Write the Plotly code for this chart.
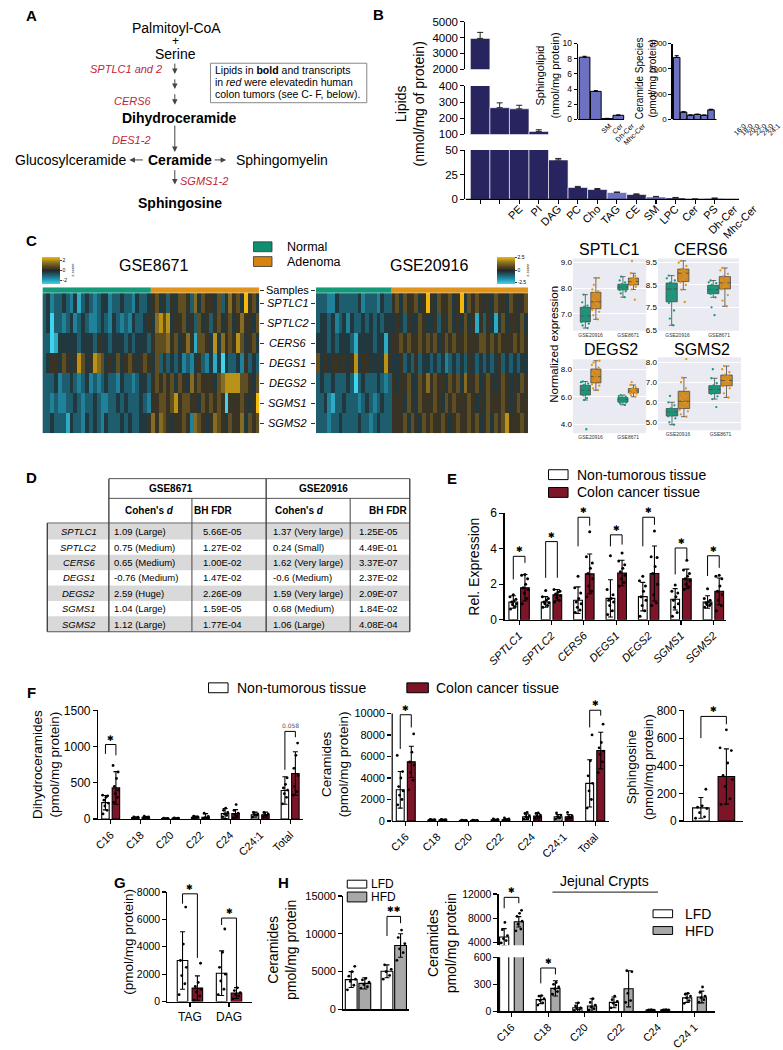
import plotly.graph_objects as go

W, H = 783, 1050
FONT = "Liberation Sans, Arial, Helvetica, sans-serif"
NAVY = "#27245f"
LIGHT = "#6c71c1"
CANCER = "#7d1428"
HFD_GRAY = "#a8a8a8"
GENE_RED = "#c11f35"
GREEN = "#14997a"
ORANGE = "#df941b"
BOX_GREEN = "#25917a"
BOX_ORANGE = "#cc8a2a"

# ================= DATA =================
# ---- Panel B ----
b_labels = ["PE", "PI", "DAG", "PC", "Cho", "TAG", "CE", "SM", "LPC", "Cer", "PS", "Dh-Cer", "Mhc-Cer"]
b_values = [3950, 265, 258, 118, 40, 12, 10, 7, 5, 2.5, 1.5, 0.3, 1.0]
b_errors = [380, 30, 22, 10, 1.5, 1.2, 1.0, 0.5, 0.6, 0.5, 0.5, 0.1, 0.4]
b_is_sphingolipid = [False, False, False, False, False, False, False, True, False, True, False, True, True]
sphingo_labels = ["SM", "Cer", "Dh-Cer", "Mhc-Cer"]
sphingo_values = [8.2, 3.7, 0.12, 0.55]
sphingo_errors = [0.12, 0.1, 0.03, 0.05]
cer_species_labels = ["16:0", "18:0", "20:0", "22:0", "24:0", "24:1"]
cer_species_values = [2450, 290, 170, 200, 165, 380]
cer_species_errors = [70, 15, 10, 10, 10, 25]

# ---- Panel C heatmaps (z-score level codes 0..9) ----
heat_genes = ["SPTLC1", "SPTLC2", "CERS6", "DEGS1", "DEGS2", "SGMS1", "SGMS2"]
heat_levels = [-2.7, -2.1, -1.5, -0.9, -0.3, 0.3, 0.9, 1.5, 2.1, 2.7]
gse8671_normal_n = 28
gse8671_rows = [
    "3423343" "2413432" "3442334" "3324334" "5645354" "6653746" "5546357" "5649564",
    "3403323" "4234322" "3432432" "3243345" "4786845" "5645364" "5356456" "4575546",
    "3301444" "4434443" "5443444" "3434443" "5666756" "4575166" "5484756" "5864564",
    "3455465" "4586458" "7645464" "5654565" "4635343" "4232453" "2414043" "3425343",
    "3334233" "4323423" "2343324" "3323443" "5656564" "6547565" "5546788" "8866546",
    "3323223" "3432334" "3223343" "4333432" "5566568" "5665546" "5656505" "5565459",
    "3343331" "4332434" "3243334" "3433445" "7576545" "5652765" "4576546" "5574656",
]
gse20916_normal_n = 20
gse20916_rows = [
    "3332243333" "3423332433" "564655" "645954" "655645" "946565" "454655" "465456",
    "3443423424" "3343434344" "454354" "465445" "354645" "464515" "354146" "455464",
    "4443434443" "1444434414" "556565" "565656" "456565" "565556" "656565" "556565",
    "6454554545" "8455445485" "445343" "534434" "342343" "435434" "343453" "434344",
    "3433433343" "0343334323" "545564" "465756" "554656" "475564" "565456" "545465",
    "3342133433" "3234323433" "555465" "465556" "546565" "556545" "465556" "545655",
    "3332334333" "3433234333" "555646" "546565" "565456" "556564" "564656" "855565",
]

# ---- Panel C box plots ----
box_datasets = ["GSE20916", "GSE8671"]
SPTLC1_GSE20916_N = [6.45, 6.55, 6.62, 6.68, 6.72, 6.80, 6.88, 6.92, 6.96, 7.05, 7.18, 7.28, 7.32, 7.45, 7.75]
SPTLC1_GSE20916_A = [6.79, 6.95, 7.08, 7.15, 7.25, 7.33, 7.40, 7.44, 7.50, 7.58, 7.68, 7.80, 7.88, 7.95, 8.13, 8.40]
SPTLC1_GSE8671_N = [7.65, 7.80, 7.88, 7.93, 7.96, 8.00, 8.02, 8.04, 8.07, 8.10, 8.13, 8.16, 8.22, 8.30, 8.45]
SPTLC1_GSE8671_A = [7.55, 7.95, 8.05, 8.12, 8.16, 8.20, 8.24, 8.26, 8.29, 8.33, 8.37, 8.40, 8.48, 8.58, 9.05]
CERS6_GSE20916_N = [6.7, 7.0, 7.36, 7.7, 7.9, 8.0, 8.2, 8.32, 8.4, 8.5, 8.55, 8.6, 8.7, 8.8, 8.92]
CERS6_GSE20916_A = [7.74, 8.29, 8.5, 8.62, 8.75, 8.9, 9.0, 9.03, 9.08, 9.12, 9.18, 9.22, 9.35, 9.5, 9.58]
CERS6_GSE8671_N = [7.15, 7.5, 7.95, 8.1, 8.15, 8.2, 8.25, 8.29, 8.33, 8.4, 8.45, 8.5, 8.58, 8.62, 8.7]
CERS6_GSE8671_A = [7.55, 7.8, 8.05, 8.3, 8.4, 8.45, 8.55, 8.6, 8.65, 8.72, 8.8, 8.9, 9.0, 9.15, 9.26]
DEGS2_GSE20916_N = [3.65, 5.76, 5.9, 6.1, 6.2, 6.3, 6.4, 6.47, 6.55, 6.65, 6.75, 6.85, 6.95, 7.05, 7.1]
DEGS2_GSE20916_A = [6.47, 6.6, 6.8, 6.9, 7.1, 7.25, 7.35, 7.41, 7.5, 7.65, 7.8, 7.9, 8.1, 8.3, 8.47, 8.6]
DEGS2_GSE8671_N = [5.41, 5.5, 5.58, 5.6, 5.65, 5.7, 5.75, 5.8, 5.82, 5.85, 5.9, 5.95, 6.0, 6.05, 6.12]
DEGS2_GSE8671_A = [6.0, 6.12, 6.22, 6.27, 6.3, 6.32, 6.38, 6.42, 6.45, 6.5, 6.55, 6.6, 6.7, 6.85, 7.06]
SGMS2_GSE20916_N = [4.88, 5.0, 5.2, 5.3, 5.36, 5.42, 5.48, 5.52, 5.56, 5.6, 5.65, 5.7, 5.85, 6.0, 6.32]
SGMS2_GSE20916_A = [5.28, 5.4, 5.55, 5.62, 5.75, 5.85, 5.95, 6.0, 6.1, 6.2, 6.3, 6.4, 6.7, 7.0, 7.23, 8.16]
SGMS2_GSE8671_N = [5.76, 6.16, 6.3, 6.42, 6.48, 6.55, 6.6, 6.64, 6.68, 6.72, 6.78, 6.85, 6.95, 7.2, 7.65]
SGMS2_GSE8671_A = [6.24, 6.45, 6.7, 6.8, 6.9, 7.0, 7.05, 7.09, 7.15, 7.2, 7.3, 7.38, 7.5, 7.65, 7.81]

# ---- Panel D table ----
d_genes = ["SPTLC1", "SPTLC2", "CERS6", "DEGS1", "DEGS2", "SGMS1", "SGMS2"]
d_gse8671_cohen = ["1.09 (Large)", "0.75 (Medium)", "0.65 (Medium)", "-0.76 (Medium)", "2.59 (Huge)", "1.04 (Large)", "1.12 (Large)"]
d_gse8671_fdr = ["5.66E-05", "1.27E-02", "1.00E-02", "1.47E-02", "2.26E-09", "1.59E-05", "1.77E-04"]
d_gse20916_cohen = ["1.37 (Very large)", "0.24 (Small)", "1.62 (Very large)", "-0.6 (Medium)", "1.59 (Very large)", "0.68 (Medium)", "1.06 (Large)"]
d_gse20916_fdr = ["1.25E-05", "4.49E-01", "3.37E-07", "2.37E-02", "2.09E-07", "1.84E-02", "4.08E-04"]

# ---- Panel E ----
e_genes = ["SPTLC1", "SPTLC2", "CERS6", "DEGS1", "DEGS2", "SGMS1", "SGMS2"]
e_normal = [1.0, 1.0, 1.1, 1.2, 1.3, 1.15, 1.0]
e_normal_sd = [0.35, 0.3, 0.75, 1.05, 0.8, 0.6, 0.35]
e_cancer = [1.8, 1.4, 2.58, 2.63, 2.6, 2.3, 1.6]
e_cancer_sd = [0.75, 0.3, 1.12, 0.72, 1.55, 0.55, 0.75]
e_normal_pts = [[0.6, 0.75, 0.85, 0.9, 1.0, 1.05, 1.15, 1.3, 1.4],
                [0.7, 0.8, 0.9, 0.95, 1.0, 1.1, 1.2, 1.3, 1.65],
                [0.4, 0.55, 0.7, 0.9, 1.0, 1.2, 1.5, 1.8, 2.45],
                [0.3, 0.5, 0.8, 1.0, 1.1, 1.2, 1.4, 1.7, 3.6],
                [0.2, 0.5, 0.8, 1.1, 1.3, 1.6, 1.9, 2.2, 2.45],
                [0.2, 0.4, 0.7, 0.9, 1.1, 1.3, 1.5, 1.6, 1.95],
                [0.7, 0.8, 0.85, 0.9, 0.95, 1.0, 1.1, 1.2, 1.75]]
e_cancer_pts = [[0.9, 1.2, 1.5, 1.7, 1.8, 2.0, 2.3, 2.5, 2.55],
                [1.0, 1.1, 1.25, 1.35, 1.45, 1.55, 1.6, 1.7],
                [1.3, 1.6, 1.9, 2.3, 2.6, 2.9, 3.2, 3.55, 4.95],
                [1.9, 2.1, 2.3, 2.5, 2.7, 2.9, 3.1, 3.3, 3.75],
                [0.8, 0.95, 1.4, 2.0, 2.6, 3.0, 3.5, 3.55, 5.0],
                [1.7, 1.85, 2.0, 2.2, 2.3, 2.45, 2.6, 2.8, 3.35],
                [0.5, 0.8, 1.1, 1.4, 1.6, 1.9, 2.3, 2.45, 2.5]]
e_sig_left = [2.27, 2.36, 4.13, 4.13, 4.13, 2.55, 2.46]
e_sig_top = [3.57, 4.4, 5.77, 4.78, 5.77, 4.04, 3.6]
e_sig_right = [3.2, 2.36, 5.29, 4.23, 5.34, 3.39, 2.92]

# ---- Panel F ----
f_species = ["C16", "C18", "C20", "C22", "C24", "C24:1", "Total"]
dhcer_normal = [226, 20, 8, 25, 75, 60, 395]
dhcer_normal_sd = [100, 8, 4, 15, 70, 35, 190]
dhcer_cancer = [430, 25, 10, 25, 75, 60, 630]
dhcer_cancer_sd = [225, 10, 5, 50, 55, 35, 300]
dhcer_normal_pts = [[70, 120, 180, 220, 260, 300, 320, 330], [10, 15, 20, 25, 30], [3, 6, 8, 10, 12],
                    [10, 20, 25, 30, 40], [30, 50, 70, 90, 120, 150], [30, 50, 60, 70, 90],
                    [210, 300, 350, 400, 430, 480, 570]]
dhcer_cancer_pts = [[230, 300, 350, 400, 450, 560, 650, 740], [15, 20, 25, 30, 40], [5, 8, 10, 12, 15],
                    [5, 15, 20, 35, 80], [20, 40, 60, 80, 120, 200], [30, 50, 60, 70, 90],
                    [330, 380, 450, 600, 700, 880, 1050]]
cer_normal = [2900, 100, 50, 100, 400, 400, 3500]
cer_normal_sd = [1700, 50, 30, 60, 250, 200, 2200]
cer_cancer = [5500, 100, 50, 120, 450, 400, 6550]
cer_cancer_sd = [1450, 50, 30, 80, 250, 200, 1700]
cer_normal_pts = [[1500, 2000, 2400, 2800, 3200, 4000, 4600, 6100], [50, 80, 100, 130, 160], [20, 40, 50, 60, 80],
                  [50, 80, 100, 140, 200], [200, 300, 400, 500, 700, 800], [200, 300, 400, 550, 750],
                  [1200, 2000, 2800, 3500, 4200, 5600, 8000]]
cer_cancer_pts = [[2900, 3800, 4500, 5200, 5500, 6400, 8100], [60, 90, 110, 130, 150], [20, 40, 50, 60, 80],
                  [60, 100, 140, 200, 300], [250, 350, 450, 550, 700, 750], [200, 300, 400, 500, 800],
                  [4500, 5500, 6200, 6500, 6800, 7300, 9000]]
sph_values = [95, 322]
sph_sd = [75, 200]
sph_normal_pts = [20, 30, 60, 90, 100, 110, 230]
sph_cancer_pts = [120, 160, 250, 300, 330, 420, 510, 530, 660]

# ---- Panel G ----
g_lipids = ["TAG", "DAG"]
g_normal = [3000, 2070]
g_normal_sd = [2100, 1630]
g_cancer = [985, 620]
g_cancer_sd = [890, 400]
g_normal_pts = [[500, 1300, 1900, 2500, 3000, 4200, 6900], [500, 900, 1500, 2000, 2500, 3600, 5300]]
g_cancer_pts = [[100, 400, 700, 900, 1100, 1400, 2800], [200, 400, 500, 650, 800, 1000]]

# ---- Panel H ----
h1_lfd = [3950, 5050]
h1_lfd_sd = [1050, 850]
h1_hfd = [3450, 8450]
h1_hfd_sd = [750, 1550]
h1_lfd_pts = [[2600, 3200, 3700, 4000, 4400, 5000, 5700], [4000, 4500, 5000, 5300, 5900]]
h1_hfd_pts = [[2800, 3000, 3300, 3600, 3900, 4100], [6500, 7500, 8000, 8700, 9500, 10500]]
h2_species = ["C16", "C18", "C20", "C22", "C24", "C24 1"]
h2_lfd = [4880, 130, 40, 100, 15, 150]
h2_lfd_sd = [1400, 45, 55, 60, 5, 50]
h2_hfd = [7400, 255, 60, 250, 15, 160]
h2_hfd_sd = [850, 85, 80, 200, 5, 65]
h2_lfd_pts = [[3900, 4300, 4600, 5100, 6100, 7300], [70, 95, 120, 140, 170, 175], [10, 20, 30, 40, 60, 95],
              [40, 70, 90, 110, 130, 170], [8, 10, 12, 15, 18, 20], [90, 120, 150, 170, 190, 200]]
h2_hfd_pts = [[5900, 6200, 7000, 7500, 8300, 8800, 9300], [190, 220, 250, 270, 300, 320], [15, 30, 50, 70, 100, 140],
              [100, 120, 200, 440, 450], [10, 12, 14, 16, 18, 20], [100, 130, 150, 170, 210, 270]]

# ================= HELPERS =================
fig = go.Figure()
annotations, shapes, axes = [], [], {}
_n = [0]


def px(x):
    return x / W


def py(y):
    return 1 - y / H


def tf(size, color="black"):
    return dict(family=FONT, size=size, color=color)


BASE_AX = dict(showline=True, linecolor="black", linewidth=1.2, ticks="outside", ticklen=4,
               tickwidth=1.1, tickcolor="black", showgrid=False, zeroline=False, fixedrange=True,
               exponentformat="none", tickformat="d", tickfont=tf(11))


def add_axes(xpix, ypix, xrange, yrange, xkw=None, ykw=None):
    _n[0] += 1
    s = "" if _n[0] == 1 else str(_n[0])
    xd = dict(BASE_AX)
    xd.update(domain=[px(xpix[0]), px(xpix[1])], range=xrange, anchor="y" + s)
    yd = dict(BASE_AX)
    yd.update(domain=[py(ypix[1]), py(ypix[0])], range=yrange, anchor="x" + s)
    if xkw:
        xd.update(xkw)
    if ykw:
        yd.update(ykw)
    axes["xaxis" + s] = xd
    axes["yaxis" + s] = yd
    return "x" + s, "y" + s


def x_axis_line(xr, yr, x0, x1, lw=1.2):
    shapes.append(dict(type="line", xref=xr, yref=yr + " domain", x0=x0, x1=x1, y0=0, y1=0,
                       line=dict(color="black", width=lw)))


def text(x, y, s, size=12, color="black", xanchor="center", yanchor="middle", angle=0):
    annotations.append(dict(x=px(x), y=py(y), xref="paper", yref="paper", text=s, showarrow=False,
                            font=tf(size, color), xanchor=xanchor, yanchor=yanchor, textangle=angle,
                            align="center"))


def arrow(x0, y0, x1, y1):
    annotations.append(dict(x=px(x1), y=py(y1), ax=x0 - x1, ay=y0 - y1, xref="paper", yref="paper",
                            axref="pixel", ayref="pixel", text="", showarrow=True, arrowhead=2,
                            arrowsize=1.1, arrowwidth=1, arrowcolor="#444", standoff=0))


def rect(x0, y0, x1, y1, fill, line="black", lw=1.0):
    shapes.append(dict(type="rect", xref="paper", yref="paper", x0=px(x0), x1=px(x1), y0=py(y1), y1=py(y0),
                       fillcolor=fill, line=dict(color=line, width=lw)))


def seg(x0, y0, x1, y1, color="#444", lw=1.0):
    shapes.append(dict(type="line", xref="paper", yref="paper", x0=px(x0), x1=px(x1), y0=py(y0), y1=py(y1),
                       line=dict(color=color, width=lw)))


JIT = [-0.32, 0.22, -0.08, 0.36, -0.2, 0.08, 0.3, -0.38, 0.0, 0.16]


def bar_series(xr, yr, centers, vals, sds, offset, width, color, pts=None, psize=3):
    xs = [c + offset for c in centers]
    fig.add_trace(go.Bar(x=xs, y=vals, width=width, xaxis=xr, yaxis=yr, showlegend=False, hoverinfo="skip",
                         marker=dict(color=color, line=dict(color="black", width=1.1)),
                         error_y=dict(type="data", array=sds, visible=True, color="black", thickness=1.1, width=2.5)))
    if pts:
        ptx, pty = [], []
        for x, p in zip(xs, pts):
            for k, v in enumerate(p):
                ptx.append(x + JIT[k % len(JIT)] * width)
                pty.append(v)
        fig.add_trace(go.Scatter(x=ptx, y=pty, mode="markers", xaxis=xr, yaxis=yr, showlegend=False,
                                 hoverinfo="skip", marker=dict(color="black", size=psize)))


def bracket(xr, yr, xl, xrt, yl, ytop, yrt, label="\u2731", size=8, color="black"):
    fig.add_trace(go.Scatter(x=[xl, xl, xrt, xrt], y=[yl, ytop, ytop, yrt], mode="lines", xaxis=xr, yaxis=yr,
                             showlegend=False, hoverinfo="skip", line=dict(color="black", width=1)))
    annotations.append(dict(x=(xl + xrt) / 2, y=ytop, xref=xr, yref=yr, text=label, showarrow=False,
                            yanchor="bottom", font=dict(family="DejaVu Sans", size=size, color=color)))


# ================= PANEL A =================
text(13.5, 9, "<b>A</b>", 15)
text(162, 21, "Palmitoyl-CoA", 14)
text(161, 34, "+", 12)
text(161, 47.5, "Serine", 14)
arrow(160.5, 56, 160.5, 68)
arrow(160.5, 72, 160.5, 83)
arrow(160.5, 87, 160.5, 99)
text(111, 63, "<i>SPTLC1 and 2</i>", 11, GENE_RED)
text(118, 95, "<i>CERS6</i>", 11, GENE_RED)
text(165.5, 112, "<b>Dihydroceramide</b>", 14)
arrow(160.5, 119, 160.5, 147)
text(116, 135, "<i>DES1-2</i>", 11, GENE_RED)
text(166, 155, "<b>Ceramide</b>", 14)
text(54, 155, "Glucosylceramide", 14)
arrow(129, 155, 114, 155)
arrow(200, 155, 213, 155)
text(221, 155, "Sphingomyelin", 14, xanchor="left")
arrow(160.5, 164, 160.5, 180)
text(190, 176, "<i>SGMS1-2</i>", 11, GENE_RED)
text(166, 199, "<b>Sphingosine</b>", 14)
rect(197, 57, 357, 97, "white", "#888", 1)
text(200, 64, "Lipids in <b>bold</b> and transcripts", 10.5, xanchor="left")
text(200, 76, "in <i>red</i> were elevatedin human", 10.5, xanchor="left")
text(200, 88, "colon tumors (see C- F, below).", 10.5, xanchor="left")

# ================= PANEL B =================
text(369, 8, "<b>B</b>", 15)
b_x = list(range(len(b_values)))
b_label_pos = [i + 2 for i in b_x]  # the printed labels sit two bars to the right
b_colors = [LIGHT if s else NAVY for s in b_is_sphingolipid]
b_segments = [((15, 63), [2000, 5000], [2000, 3000, 4000, 5000]),
              ((80, 129), [100, 400], [100, 200, 300, 400]),
              ((145, 195), [0, 50], [0, 25, 50])]
for i, (ypix, yrng, tv) in enumerate(b_segments):
    last = i == len(b_segments) - 1
    xr, yr = add_axes((458, 765), ypix, [-0.75, 14.6], yrng,
                      xkw=dict(visible=last, showline=False, tickvals=b_label_pos, ticktext=b_labels, ticks="",
                               tickangle=-45, tickfont=tf(11),
                               minor=dict(tickvals=b_x, ticks="outside", ticklen=4, tickwidth=1.1,
                                          tickcolor="black")),
                      ykw=dict(tickvals=tv, tickfont=tf(11.5)))
    fig.add_trace(go.Bar(x=b_x, y=b_values, width=1.0, xaxis=xr, yaxis=yr, showlegend=False, hoverinfo="skip",
                         marker=dict(color=b_colors, line=dict(color="white", width=0.6)),
                         error_y=dict(type="data", symmetric=False, array=b_errors, arrayminus=[0] * len(b_errors),
                                      color="#222", thickness=1, width=3)))
    if last:
        x_axis_line(xr, yr, -0.75, 13.25)
text(401, 98, "Lipids<br>(nmol/mg of protein)", 14, angle=-90)

# inset: sphingolipids
sp_x = list(range(len(sphingo_values)))
xr, yr = add_axes((573, 649), (37, 114), [-0.6, 6.0], [0, 10],
                  xkw=dict(showline=False, tickvals=[i + 2.2 for i in sp_x], ticktext=sphingo_labels,
                           tickangle=-45, ticks="", tickfont=tf(7)),
                  ykw=dict(tickvals=[0, 2, 4, 6, 8, 10], tickfont=tf(8.5), ticklen=3))
fig.add_trace(go.Bar(x=sp_x, y=sphingo_values, width=0.95, xaxis=xr, yaxis=yr, showlegend=False,
                     hoverinfo="skip", marker=dict(color=LIGHT, line=dict(color="black", width=1)),
                     error_y=dict(type="data", symmetric=False, array=sphingo_errors, arrayminus=[0] * 4,
                                  color="black", thickness=1, width=2)))
x_axis_line(xr, yr, -0.6, 3.5)
text(542, 70, "Sphingolipid<br>(nmol/mg protein)", 11, angle=-90)

# inset: ceramide species
cs_x = list(range(len(cer_species_values)))
xr, yr = add_axes((670, 783), (37, 114), [-0.6, 15.5], [0, 3000],
                  xkw=dict(showline=False, tickvals=[i + 9.8 for i in cs_x], ticktext=cer_species_labels,
                           tickangle=-45, ticks="", tickfont=tf(7)),
                  ykw=dict(tickvals=[0, 1000, 2000, 3000], tickfont=tf(8), ticklen=3))
fig.add_trace(go.Bar(x=cs_x, y=cer_species_values, width=0.95, xaxis=xr, yaxis=yr, showlegend=False,
                     hoverinfo="skip", marker=dict(color=LIGHT, line=dict(color="black", width=1)),
                     error_y=dict(type="data", symmetric=False, array=cer_species_errors, arrayminus=[0] * 6,
                                  color="black", thickness=1, width=2)))
x_axis_line(xr, yr, -0.6, 5.8)
text(643, 72, "Ceramide Species<br>(pmol/mg protein)", 10, angle=-90)

# ================= PANEL C =================
text(14, 237, "<b>C</b>", 15)
HEAT_CS = [[0, "#3fd4ee"], [0.2, "#1f8aa3"], [0.38, "#1e4d5c"], [0.5, "#262626"],
           [0.62, "#4d4222"], [0.8, "#8d7222"], [1, "#f0b90b"]]
row_y = list(range(len(heat_genes)))[::-1]


def heatmap(xpix, rows, n_normal, cb_x, cb_ticks, yside):
    z = [[heat_levels[int(c)] for c in r] for r in rows]
    ncol = len(rows[0])
    xr, yr = add_axes(xpix, (284, 432), [-0.5, ncol - 0.5], [-0.5, 6.8],
                      xkw=dict(visible=False),
                      ykw=dict(showline=False, side=yside, tickvals=[6.65] + row_y, showticklabels=False,
                               ticklen=4, tickcolor="#333", tickwidth=1))
    fig.add_trace(go.Heatmap(z=z, x=list(range(ncol)), y=row_y, xaxis=xr, yaxis=yr, colorscale=HEAT_CS,
                             zmin=heat_levels[0], zmax=heat_levels[-1], hoverinfo="skip",
                             colorbar=dict(x=px(cb_x), xanchor="left", y=py(253), yanchor="top",
                                           lenmode="pixels", len=27, thicknessmode="pixels", thickness=18,
                                           xpad=0, ypad=0, outlinewidth=0, ticks="outside", ticklen=2,
                                           tickvals=cb_ticks, ticktext=[("%g" % t) for t in cb_ticks],
                                           tickfont=tf(5),
                                           title=dict(text="z-score", side="right", font=tf(4)))))
    shapes.append(dict(type="rect", xref=xr, yref=yr, x0=-0.5, x1=n_normal - 0.5, y0=6.52, y1=6.8,
                       fillcolor=GREEN, line=dict(width=0)))
    shapes.append(dict(type="rect", xref=xr, yref=yr, x0=n_normal - 0.5, x1=ncol - 0.5, y0=6.52, y1=6.8,
                       fillcolor=ORANGE, line=dict(width=0)))
    return xr, yr


hx, hy = heatmap((25, 247), gse8671_rows, gse8671_normal_n, 25, [-2, 0, 2], "right")
heatmap((305, 522), gse20916_rows, gse20916_normal_n, 490, [-2.5, 0, 2.5], "left")
annotations.append(dict(x=px(276), y=6.65, xref="paper", yref=hy, text="Samples", showarrow=False, font=tf(11)))
for g, yv in zip(heat_genes, row_y):
    annotations.append(dict(x=px(276), y=yv, xref="paper", yref=hy, text="<i>%s</i>" % g, showarrow=False,
                            font=tf(11)))
text(139, 262, "GSE8671", 16)
text(421, 262, "GSE20916", 16)
rect(241, 238, 260, 248, "#0f8f6f", "#333", 0.8)
rect(241, 253, 260, 263, "#d6820c", "#333", 0.8)
text(273, 243, "Normal", 12.5, xanchor="left")
text(273, 258, "Adenoma", 12.5, xanchor="left")

# box plots
box_values = {
    ("SPTLC1", "GSE20916", "N"): SPTLC1_GSE20916_N, ("SPTLC1", "GSE20916", "A"): SPTLC1_GSE20916_A,
    ("SPTLC1", "GSE8671", "N"): SPTLC1_GSE8671_N, ("SPTLC1", "GSE8671", "A"): SPTLC1_GSE8671_A,
    ("CERS6", "GSE20916", "N"): CERS6_GSE20916_N, ("CERS6", "GSE20916", "A"): CERS6_GSE20916_A,
    ("CERS6", "GSE8671", "N"): CERS6_GSE8671_N, ("CERS6", "GSE8671", "A"): CERS6_GSE8671_A,
    ("DEGS2", "GSE20916", "N"): DEGS2_GSE20916_N, ("DEGS2", "GSE20916", "A"): DEGS2_GSE20916_A,
    ("DEGS2", "GSE8671", "N"): DEGS2_GSE8671_N, ("DEGS2", "GSE8671", "A"): DEGS2_GSE8671_A,
    ("SGMS2", "GSE20916", "N"): SGMS2_GSE20916_N, ("SGMS2", "GSE20916", "A"): SGMS2_GSE20916_A,
    ("SGMS2", "GSE8671", "N"): SGMS2_GSE8671_N, ("SGMS2", "GSE8671", "A"): SGMS2_GSE8671_A,
}
box_specs = [
    ("SPTLC1", (568, 643), (255, 328), [6.35, 9.15], [7.0, 8.0, 9.0], (605, 246)),
    ("CERS6", (655, 738), (255, 328), [6.46, 9.68], [6.5, 7.5, 8.5, 9.5], (699, 246)),
    ("DEGS2", (568, 643), (357, 432), [3.36, 8.71], [4.0, 6.0, 8.0], (607, 347)),
    ("SGMS2", (655, 740), (355, 429), [4.6, 8.25], [5.0, 6.0, 7.0, 8.0], (700, 347)),
]
for gene, xpix, ypix, yrng, tv, tpos in box_specs:
    xr, yr = add_axes(xpix, ypix, [-0.47, 1.48], yrng,
                      xkw=dict(showline=False, ticks="", tickvals=[0, 1], ticktext=box_datasets, tickfont=tf(5, "#333")),
                      ykw=dict(showline=False, ticks="", tickvals=tv, tickformat=".1f", showgrid=True,
                               gridcolor="white", gridwidth=1, tickfont=tf(8)))
    shapes.append(dict(type="rect", xref=xr + " domain", yref=yr + " domain", x0=0, x1=1, y0=0, y1=1,
                       fillcolor="#eaeaf2", line=dict(width=0), layer="below"))
    for d, ds in enumerate(box_datasets):
        for grp, off, fill, pc in (("N", -0.14, BOX_GREEN, GREEN), ("A", 0.14, BOX_ORANGE, ORANGE)):
            fig.add_trace(go.Box(y=box_values[(gene, ds, grp)], x0=d + off, width=0.27, xaxis=xr, yaxis=yr,
                                 fillcolor=fill, line=dict(color="#4a4a4a", width=0.8), whiskerwidth=0.5,
                                 boxpoints="all", jitter=0.9, pointpos=0, hoverinfo="skip", showlegend=False,
                                 marker=dict(color=pc, size=2.3)))
    text(tpos[0], tpos[1], gene, 16)
text(549, 342, "Normalized expression", 11.5, angle=-90)

# ================= PANEL D =================
text(14, 477, "<b>D</b>", 15)
tx = [30, 93, 178, 254, 340, 401]
ty_top, ty_mid, ty_hdr = 478, 498, 523
row_top, row_h = 524, 15.6
y_bot = row_top + row_h * len(d_genes)
for i in range(len(d_genes)):
    if i % 2 == 0:
        rect(tx[0], row_top + i * row_h, tx[5], row_top + (i + 1) * row_h, "#d9d9d9", "rgba(0,0,0,0)", 0)
seg(tx[1], ty_top, tx[5], ty_top, "#555", 1)
seg(tx[1], ty_mid, tx[5], ty_mid, "#555", 1)
seg(tx[0], ty_hdr, tx[5], ty_hdr, "#555", 1)
seg(tx[0], y_bot, tx[5], y_bot, "#555", 1.2)
for xv in (tx[1], tx[3], tx[5]):
    seg(xv, ty_top, xv, y_bot, "#444", 1.4)
for xv in (tx[2], tx[4]):
    seg(xv, ty_mid, xv, y_bot, "#555", 1.1)
seg(tx[0], ty_hdr, tx[0], y_bot, "#444", 1.4)
text(157, 488, "<b>GSE8671</b>", 10)
text(313, 488, "<b>GSE20916</b>", 10)
text(135, 510.5, "<b>Cohen's <i>d</i></b>", 10)
text(200, 510.5, "<b>BH FDR</b>", 10)
text(288, 510.5, "<b>Cohen's <i>d</i></b>", 10)
text(379, 510.5, "<b>BH FDR</b>", 10)
for i, g in enumerate(d_genes):
    yc = row_top + (i + 0.5) * row_h
    text(62, yc, "<i>%s</i>" % g, 9.5)
    text(96, yc, d_gse8671_cohen[i], 9.5, xanchor="left")
    text(187, yc, d_gse8671_fdr[i], 9.5, xanchor="left")
    text(259, yc, d_gse20916_cohen[i], 9.5, xanchor="left")
    text(347, yc, d_gse20916_fdr[i], 9.5, xanchor="left")

# ================= PANEL E =================
text(444, 478, "<b>E</b>", 15)
e_idx = list(range(len(e_genes)))
xr, yr = add_axes((498, 725), (513, 621), [-0.45, 6.4], [0, 6],
                  xkw=dict(tickvals=e_idx, ticktext=["<i>%s</i>" % g for g in e_genes], tickangle=-45,
                           tickfont=tf(11)),
                  ykw=dict(tickvals=[0, 2, 4, 6], tickfont=tf(12)))
bar_series(xr, yr, e_idx, e_normal, e_normal_sd, -0.18, 0.27, "white", e_normal_pts)
bar_series(xr, yr, e_idx, e_cancer, e_cancer_sd, 0.18, 0.27, CANCER, e_cancer_pts)
for i in e_idx:
    bracket(xr, yr, i - 0.18, i + 0.18, e_sig_left[i], e_sig_top[i], e_sig_right[i])
text(467, 567, "Rel. Expression", 14, angle=-90)
rect(543, 469, 563, 479, "white", "black", 1)
rect(543, 487, 563, 497, CANCER, "black", 1)
text(570, 474, "Non-tumorous tissue", 14, xanchor="left")
text(570, 492, "Colon cancer tissue", 14, xanchor="left")

# ================= PANEL F =================
text(14, 695, "<b>F</b>", 15)
rect(195, 685, 215, 695, "white", "black", 1)
text(222, 690, "Non-tumorous tissue", 14, xanchor="left")
rect(398, 685, 420, 695, CANCER, "black", 1)
text(426, 690, "Colon cancer tissue", 14, xanchor="left")
f_idx = list(range(len(f_species)))

xr, yr = add_axes((82, 292), (713, 823), [-0.42, 6.44], [0, 1500],
                  xkw=dict(tickvals=f_idx, ticktext=f_species, tickangle=-45, tickfont=tf(11)),
                  ykw=dict(tickvals=[0, 500, 1000, 1500], tickfont=tf(12)))
bar_series(xr, yr, f_idx, dhcer_normal, dhcer_normal_sd, -0.175, 0.25, "white", dhcer_normal_pts, 2.8)
bar_series(xr, yr, f_idx, dhcer_cancer, dhcer_cancer_sd, 0.175, 0.25, CANCER, dhcer_cancer_pts, 2.8)
bracket(xr, yr, -0.175, 0.175, 900, 1030, 880)
bracket(xr, yr, 5.825, 6.175, 680, 1211, 1130, label="0.058", size=6, color="#555")
text(29, 768, "Dihydroceramides<br>(pmol/mg protein)", 13.5, angle=-90)

f2_top = 825 - 10700 * (825 - 716) / 10000.0
xr, yr = add_axes((383, 605), (f2_top, 825), [-0.43, 6.44], [0, 10700],
                  xkw=dict(tickvals=f_idx, ticktext=f_species, tickangle=-45, tickfont=tf(11)),
                  ykw=dict(showline=False, tickvals=[0, 2000, 4000, 6000, 8000, 10000], tickfont=tf(11)))
shapes.append(dict(type="line", xref=xr + " domain", yref=yr, x0=0, x1=0, y0=0, y1=10000,
                   line=dict(color="black", width=1.2)))
bar_series(xr, yr, f_idx, cer_normal, cer_normal_sd, -0.175, 0.25, "white", cer_normal_pts, 2.8)
bar_series(xr, yr, f_idx, cer_cancer, cer_cancer_sd, 0.175, 0.25, CANCER, cer_cancer_pts, 2.8)
bracket(xr, yr, -0.175, 0.175, 6700, 9880, 8700)
bracket(xr, yr, 5.825, 6.175, 8700, 10300, 9800)
text(325, 768, "Ceramides<br>(pmol/mg protein)", 13.5, angle=-90)

xr, yr = add_axes((682, 742), (713, 825), [-0.65, 1.65], [0, 800],
                  xkw=dict(ticks="", showticklabels=False),
                  ykw=dict(tickvals=[0, 200, 400, 600, 800], tickfont=tf(12)))
bar_series(xr, yr, [0], [sph_values[0]], [sph_sd[0]], 0, 0.65, "white", [sph_normal_pts], 2.8)
bar_series(xr, yr, [1], [sph_values[1]], [sph_sd[1]], 0, 0.65, CANCER, [sph_cancer_pts], 2.8)
bracket(xr, yr, 0, 1, 600, 757, 700)
text(637, 770, "Sphingosine<br>(pmol/mg protein)", 13.5, angle=-90)

# ================= PANEL G =================
text(104, 887, "<b>G</b>", 15)
xr, yr = add_axes((153, 240), (897, 1008), [-0.575, 1.6], [0, 8000],
                  xkw=dict(tickvals=[0, 1], ticktext=g_lipids, tickfont=tf(12)),
                  ykw=dict(tickvals=[0, 2000, 4000, 6000, 8000], tickfont=tf(10.5)))
bar_series(xr, yr, [0, 1], g_normal, g_normal_sd, -0.19, 0.27, "white", g_normal_pts, 2.8)
bar_series(xr, yr, [0, 1], g_cancer, g_cancer_sd, 0.19, 0.27, CANCER, g_cancer_pts, 2.8)
bracket(xr, yr, -0.19, 0.19, 7150, 7870, 3190)
bracket(xr, yr, 0.81, 1.19, 5590, 6100, 1030)
text(113, 947, "(pmol/mg protein)", 13.5, angle=-90)

# ================= PANEL H =================
text(272, 887, "<b>H</b>", 15)
xr, yr = add_axes((333, 400), (901, 1016), [-0.41, 1.42], [0, 15000],
                  xkw=dict(ticks="", showticklabels=False),
                  ykw=dict(tickvals=[0, 5000, 10000, 15000], tickfont=tf(11)))
bar_series(xr, yr, [0, 1], h1_lfd, h1_lfd_sd, -0.19, 0.33, "white", h1_lfd_pts, 2.8)
bar_series(xr, yr, [0, 1], h1_hfd, h1_hfd_sd, 0.19, 0.33, HFD_GRAY, h1_hfd_pts, 2.8)
bracket(xr, yr, 0.81, 1.19, 9700, 12300, 11400, label="\u2731\u2731")
text(270, 956, "Ceramides<br>pmol/mg protein", 14, angle=-90)
rect(337, 885, 357, 893, "white", "black", 1)
rect(337, 897, 357, 907, HFD_GRAY, "black", 1)
text(359, 889, "LFD", 12, xanchor="left")
text(359, 902, "HFD", 12, xanchor="left")

h2_idx = list(range(len(h2_species)))
h2_segments = [((899, 951), [3510, 12000], [4000, 8000, 12000]), ((963, 1018), [0, 600], [0, 300, 600])]
h2_axes = []
for i, (ypix, yrng, tv) in enumerate(h2_segments):
    last = i == len(h2_segments) - 1
    xr, yr = add_axes((492, 713), ypix, [-0.35, 5.55], yrng,
                      xkw=dict(visible=last, tickvals=h2_idx, ticktext=h2_species, tickangle=-45, tickfont=tf(11)),
                      ykw=dict(tickvals=tv, tickfont=tf(10.5)))
    bar_series(xr, yr, h2_idx, h2_lfd, h2_lfd_sd, -0.2, 0.25, "white", h2_lfd_pts, 2.8)
    bar_series(xr, yr, h2_idx, h2_hfd, h2_hfd_sd, 0.2, 0.25, HFD_GRAY, h2_hfd_pts, 2.8)
    h2_axes.append((xr, yr))
bracket(h2_axes[0][0], h2_axes[0][1], -0.2, 0.2, 9640, 11450, 10470)
bracket(h2_axes[1][0], h2_axes[1][1], 0.8, 1.2, 310, 480, 409)
text(434, 949, "Ceramides<br>pmol/mg protein", 14, angle=-90)
text(600, 886, "Jejunal Crypts", 14)
seg(547, 897, 655, 897, "#444", 1.2)
rect(650, 915, 670, 923, "white", "black", 1)
rect(650, 932, 670, 940, HFD_GRAY, "black", 1)
text(681, 919, "LFD", 14, xanchor="left")
text(681, 936, "HFD", 14, xanchor="left")

# ================= LAYOUT =================
fig.update_layout(width=W, height=H, autosize=False, margin=dict(l=0, r=0, t=0, b=0),
                  paper_bgcolor="white", plot_bgcolor="white", barmode="overlay", boxmode="overlay",
                  showlegend=False, font=dict(family=FONT, color="black"),
                  annotations=annotations, shapes=shapes, **axes)
fig.write_html("out.html", config={"displayModeBar": False, "staticPlot": True},
               post_script="document.body.style.margin='0';")
